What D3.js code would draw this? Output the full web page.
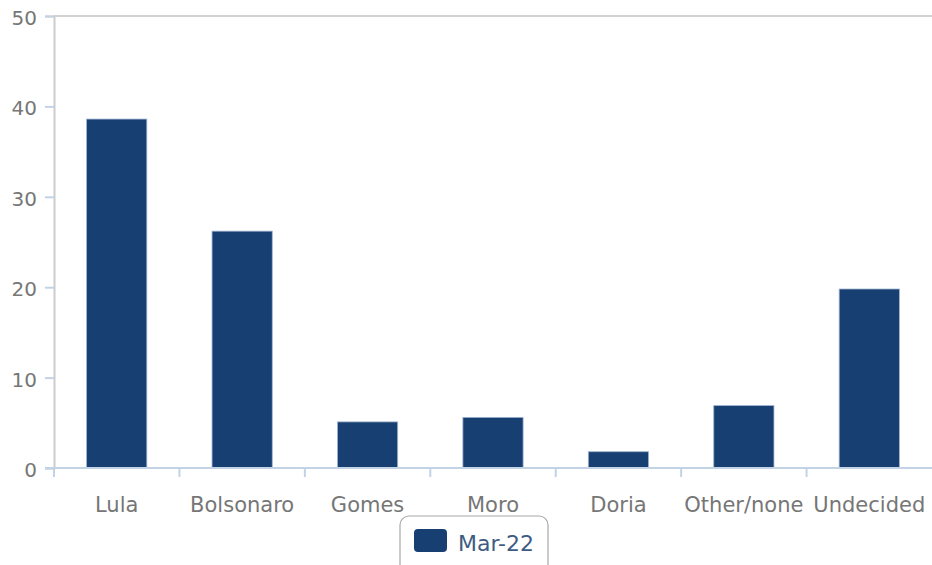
<!DOCTYPE html>
<html>
<head>
<meta charset="utf-8">
<script src="https://cdn.jsdelivr.net/npm/d3@7"></script>
<style>
  html, body { margin: 0; padding: 0; background: #fff; }
  svg { display: block; font-family: "DejaVu Sans", sans-serif; }
</style>
</head>
<body>
<svg id="chart" width="932" height="565"></svg>
<script>
// Poll shares (%) by candidate, March 2022
const candidates = ["Lula", "Bolsonaro", "Gomes", "Moro", "Doria", "Other/none", "Undecided"];
const mar22 = [38.6, 26.2, 5.1, 5.6, 1.8, 6.9, 19.8];
const yTicks = [0, 10, 20, 30, 40, 50];
const seriesName = "Mar-22";

const W = 932, H = 565;
const m = { left: 54, right: 0, top: 16, bottom: 97 };
const FONT = "'DejaVu Sans', sans-serif";
const svg = d3.select("#chart");

const x = d3.scaleBand().domain(candidates).range([m.left, W - m.right]).padding(0);
const y = d3.scaleLinear().domain([0, 50]).range([H - m.bottom, m.top]);

const barColor = "#183f72";
const labelColor = "#767676";

// top frame line at 50
svg.append("line")
  .attr("x1", m.left).attr("x2", W)
  .attr("y1", y(50)).attr("y2", y(50))
  .attr("stroke", "#d2d2d2").attr("stroke-width", 2);

// y axis
const yAxis = d3.axisLeft(y).tickValues(yTicks).tickSize(9).tickPadding(8).tickFormat(d3.format("d"));
const gy = svg.append("g").attr("transform", `translate(${m.left},0)`).call(yAxis)
  .attr("font-family", FONT);
gy.select(".domain").attr("stroke", "#cccccc").attr("stroke-width", 2);
gy.selectAll(".tick line").attr("stroke", "#c3d3e6").attr("stroke-width", 2);
gy.selectAll(".tick text")
  .attr("fill", labelColor).attr("font-size", 20).attr("dy", "0.42em");

// bars
const bw = x.bandwidth() * 0.48;
svg.append("g").selectAll("rect")
  .data(candidates.map((c, i) => ({ c, v: mar22[i] })))
  .join("rect")
  .attr("x", d => x(d.c) + (x.bandwidth() - bw) / 2)
  .attr("width", bw)
  .attr("y", d => y(d.v))
  .attr("height", d => y(0) - y(d.v))
  .attr("fill", barColor)
  .attr("stroke", "#9db3d1")
  .attr("stroke-width", 0.8);

// x axis
const xAxis = d3.axisBottom(x).tickSize(0).tickPadding(0);
const gx = svg.append("g").attr("transform", `translate(0,${y(0)})`).call(xAxis)
  .attr("font-family", FONT);
gx.select(".domain").remove();
gx.append("line")
  .attr("x1", m.left - 9).attr("x2", W)
  .attr("y1", 0).attr("y2", 0)
  .attr("stroke", "#c3d3e6").attr("stroke-width", 2);
gx.selectAll(".tick text")
  .attr("fill", labelColor).attr("font-size", 21)
  .attr("y", 44).attr("dy", 0);
// category boundary ticks
gx.append("g").selectAll("line")
  .data(candidates)
  .join("line")
  .attr("x1", d => x(d)).attr("x2", d => x(d))
  .attr("y1", 0).attr("y2", 9)
  .attr("stroke", "#c3d3e6").attr("stroke-width", 2);

// legend
const lg = svg.append("g").attr("transform", "translate(400,516)").attr("font-family", FONT);
lg.append("rect")
  .attr("x", 0).attr("y", 0).attr("width", 148).attr("height", 62)
  .attr("rx", 9).attr("fill", "#fff")
  .attr("stroke", "#a8a8a8").attr("stroke-width", 1.2);
lg.append("rect")
  .attr("x", 14).attr("y", 13).attr("width", 33).attr("height", 23)
  .attr("rx", 4).attr("fill", barColor);
lg.append("text")
  .attr("x", 58).attr("y", 35)
  .attr("font-size", 22).attr("fill", "#3e5c82")
  .text(seriesName);
</script>
</body>
</html>
